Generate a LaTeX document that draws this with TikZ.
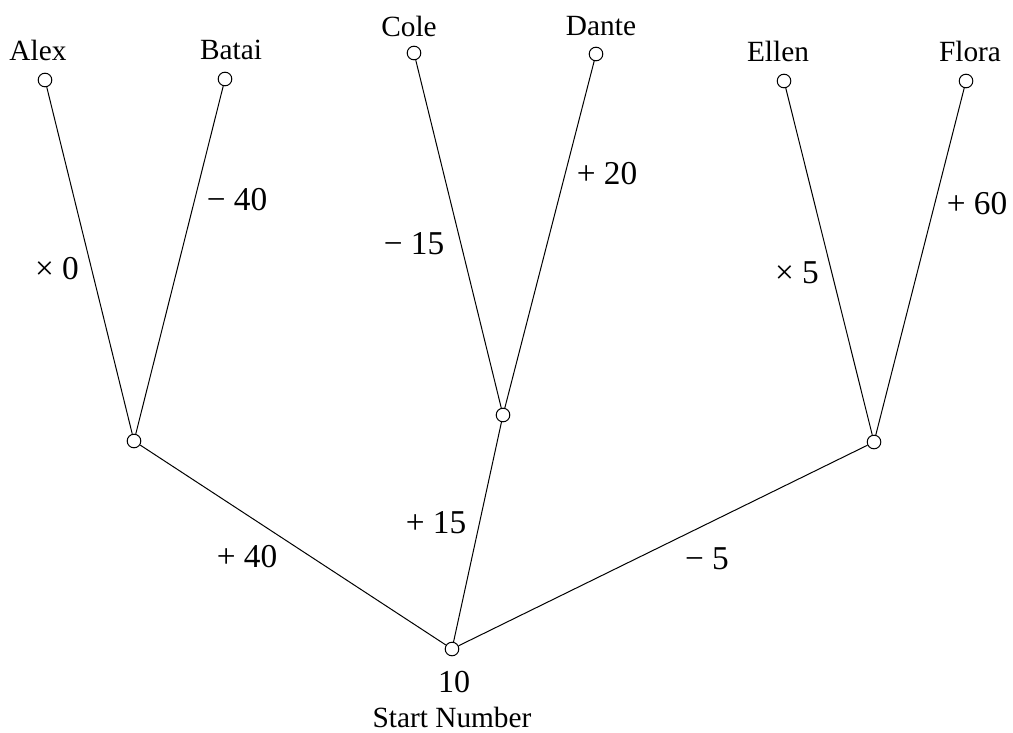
\documentclass[tikz,border=0pt]{standalone}
\usepackage{fontspec}
\setmainfont{Liberation Serif}
\begin{document}
\begin{tikzpicture}[x=0.75pt,y=-0.75pt,
  dot/.style={circle,draw,line width=0.75pt,minimum size=10.2pt,inner sep=0pt},
  branch/.style={line width=0.75pt},
  player/.style={font=\fontsize{22}{26}\selectfont,inner sep=0pt},
  oplabel/.style={font=\fontsize{25}{30}\selectfont,inner sep=0pt}]
\useasboundingbox (0,0) rectangle (1013,732);

% tree nodes
\node[dot] (root) at (452,649) {};
\node[dot] (ml) at (134,441) {};
\node[dot] (mm) at (503,415) {};
\node[dot] (mr) at (874,442) {};
\node[dot] (alex) at (45,80) {};
\node[dot] (batai) at (225,79) {};
\node[dot] (cole) at (414,53) {};
\node[dot] (dante) at (596,54) {};
\node[dot] (ellen) at (784,81) {};
\node[dot] (flora) at (966,81) {};

% player names
\node[player] (talex) at (38,50) {Alex};
\node[player] (tbatai) at (231,50) {Batai};
\node[player] (tcole) at (409,26) {Cole};
\node[player] (tdante) at (601,26) {Dante};
\node[player] (tellen) at (778,51) {Ellen};
\node[player] (tflora) at (970,51) {Flora};

% start value
\node[font=\fontsize{24}{28}\selectfont,inner sep=0pt] (ten) at (454,682) {10};
\node[player] (start) at (452,717) {Start Number};

% branches
\draw[branch] (root) -- (ml);
\draw[branch] (root) -- (mm);
\draw[branch] (root) -- (mr);
\draw[branch] (ml) -- (alex);
\draw[branch] (ml) -- (batai);
\draw[branch] (mm) -- (cole);
\draw[branch] (mm) -- (dante);
\draw[branch] (mr) -- (ellen);
\draw[branch] (mr) -- (flora);

% operations
\node[oplabel] (oa) at (57,269) {× 0};
\node[oplabel] (ob) at (237,200) {− 40};
\node[oplabel] (oc) at (414,244) {− 15};
\node[oplabel] (od) at (607,174) {+ 20};
\node[oplabel] (oe) at (797,273) {× 5};
\node[oplabel] (of) at (977,204) {+ 60};
\node[oplabel] (ol) at (247,557) {+ 40};
\node[oplabel] (om) at (436,523) {+ 15};
\node[oplabel] (or) at (707,559) {− 5};
\end{tikzpicture}
\end{document}
